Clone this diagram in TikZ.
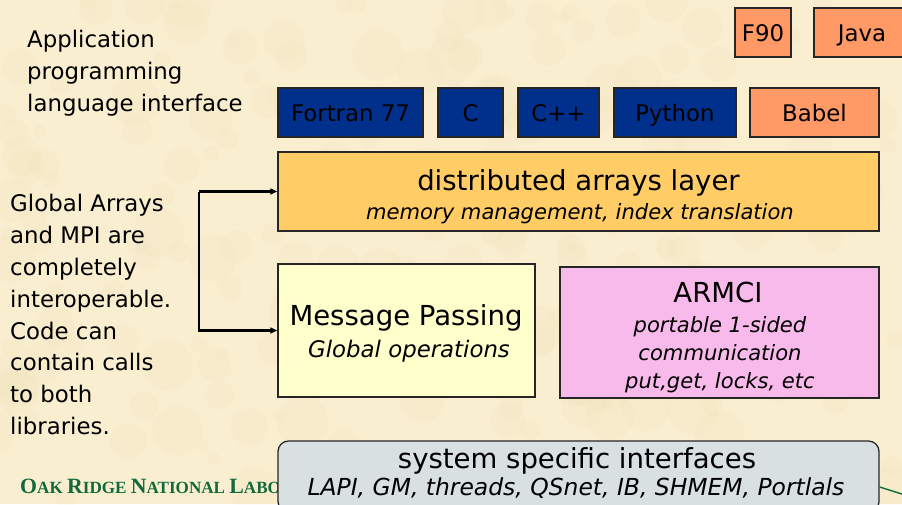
\documentclass[tikz,border=0pt]{standalone}
\usepackage{fontspec}
\setmainfont{DejaVu Sans}
\newfontfamily\labfont{Liberation Serif}
\usetikzlibrary{positioning,arrows.meta}

% slide colours
\definecolor{parchment}{RGB}{249,238,208}
\definecolor{blotch}{RGB}{226,196,140}
\definecolor{langblue}{RGB}{0,48,140}
\definecolor{langorange}{RGB}{255,153,102}
\definecolor{layergold}{RGB}{255,204,102}
\definecolor{mpyellow}{RGB}{255,255,204}
\definecolor{armcipink}{RGB}{248,186,234}
\definecolor{sysgrey}{RGB}{216,224,226}
\definecolor{labgreen}{RGB}{18,105,60}

\newcommand{\mainsize}{\fontsize{19.5}{27.2}\selectfont}
\newcommand{\bigsize}{\fontsize{23.5}{28}\selectfont}
\newcommand{\capsz}{\fontsize{18.6}{18}\selectfont}
\newcommand{\smcsz}{\fontsize{14.6}{18}\selectfont}

\begin{document}
\begin{tikzpicture}[x=0.03cm,y=-0.03cm,
    every node/.style={inner sep=0pt},
    layerbox/.style={draw=black!85, line width=1.1pt},
    langbox/.style={layerbox, minimum height=1.47cm, text height=20pt, text depth=4pt, font=\mainsize},
    note/.style={align=left, anchor=north west, font=\mainsize},
    link/.style={line width=1.8pt, -{Triangle[length=6pt,width=5pt]}}]

  % background
  \useasboundingbox (0,0) rectangle (902,504);
  \begin{scope}
    \clip (0,0) rectangle (902,504);
    \fill[parchment] (0,0) rectangle (902,504);
    \pgfmathsetseed{11}
    \foreach \i in {1,...,220}{
      \pgfmathsetmacro{\bx}{rnd*902}
      \pgfmathsetmacro{\by}{rnd*504}
      \pgfmathsetmacro{\br}{6+rnd*20}
      \fill[blotch, opacity=0.05] (\bx,\by) circle[radius=\br];
    }
  \end{scope}

  % side notes
  \node[note] (apinote) at (27,30) {Application\\programming\\language interface};
  \node[note] (ganote) at (10,194) {Global Arrays\\and MPI are\\completely\\interoperable.\\Code can\\contain calls\\to both\\libraries.};

  % footer
  \node[anchor=base west, text=labgreen, font=\labfont\bfseries] (lab) at (20,493)
    {\capsz O\smcsz AK \capsz R\smcsz IDGE \capsz N\smcsz ATIONAL \capsz L\smcsz ABO};

  % language bindings
  \node[langbox, fill=langorange, minimum width=1.68cm] (f90) at (763,32.5) {F90};
  \node[langbox, fill=langorange, minimum width=2.88cm] (java) at (862,32.5) {Java};
  \node[langbox, fill=langblue, minimum width=4.35cm] (f77) at (350.5,112.5) {Fortran 77};
  \node[langbox, fill=langblue, minimum width=1.95cm] (cc) at (470.5,112.5) {C};
  \node[langbox, fill=langblue, minimum width=2.43cm] (cpp) at (558.5,112.5) {C++};
  \node[langbox, fill=langblue, minimum width=3.66cm] (python) at (675,112.5) {Python};
  \node[langbox, fill=langorange, minimum width=3.87cm] (babel) at (814.5,112.5) {Babel};

  % distributed arrays layer
  \node[layerbox, fill=layergold, minimum width=18.03cm, minimum height=2.37cm] (dist) at (578.5,191.5) {};
  \node[anchor=base, font=\bigsize] (disttitle) at (578.5,190) {distributed arrays layer};
  \node[anchor=base, font=\fontsize{18}{24}\selectfont\itshape] (distsub) at (580,219) {memory management, index translation};

  % message passing and ARMCI
  \node[layerbox, fill=mpyellow, minimum width=7.71cm, minimum height=3.99cm] (mp) at (406.5,330.5) {};
  \node[anchor=base, font=\bigsize] (mptitle) at (406,325) {Message Passing};
  \node[anchor=base, font=\fontsize{19.5}{24}\selectfont\itshape] (mpsub) at (409,357) {Global operations};

  \node[layerbox, fill=armcipink, minimum width=9.57cm, minimum height=3.93cm] (armci) at (719.5,332.5) {};
  \node[anchor=base, font=\bigsize] (armcititle) at (718,302) {ARMCI};
  \node[anchor=north, align=center, font=\fontsize{18}{23.9}\selectfont\itshape] (armcisub) at (720,316.5)
    {portable 1-sided\\communication\\put,get, locks, etc};

  % system layer
  \node[layerbox, fill=sysgrey, rounded corners=9pt, minimum width=18.03cm, minimum height=2.13cm] (sys) at (578.5,476.5) {};
  \node[anchor=base, font=\bigsize] (systitle) at (577,468) {system specific interfaces};
  \node[anchor=base, font=\fontsize{20}{24}\selectfont\itshape] (syssub) at (576,495) {LAPI, GM, threads, QSnet, IB, SHMEM, Portlals};
  \coordinate (swoosh) at (905,495);
  \draw[labgreen, line width=1.2pt] (sys.east |- 0,487) -- (swoosh);

  % interoperability bracket
  \coordinate (spine) at (199,0);
  \draw[link] (dist.west -| spine) -- (dist.west);
  \draw[link] (dist.west -| spine) -- (mp.west -| spine) -- (mp.west);

\end{tikzpicture}
\end{document}
